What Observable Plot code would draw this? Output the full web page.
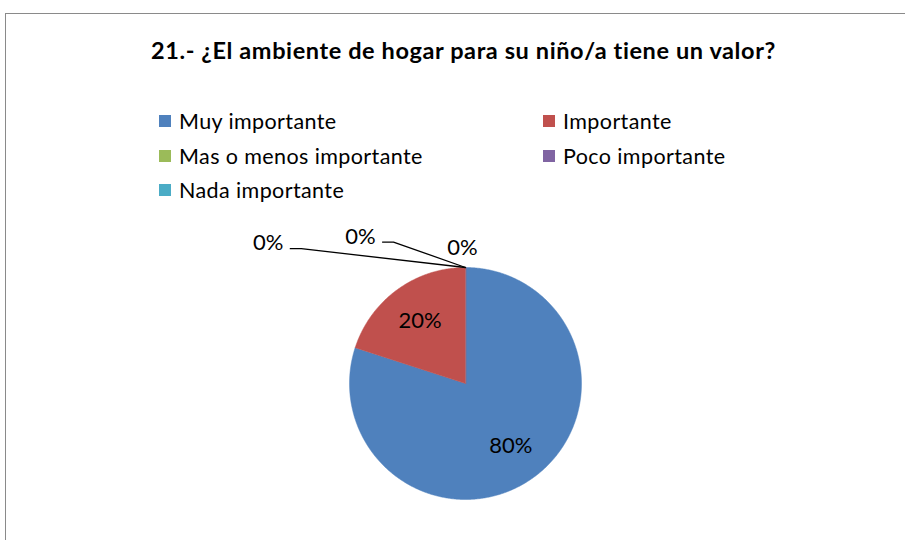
<!DOCTYPE html>
<html><head><meta charset="utf-8">
<script src="https://cdn.jsdelivr.net/npm/d3@7"></script>
<script src="https://cdn.jsdelivr.net/npm/@observablehq/plot@0.6"></script>
<style>
body{margin:0;background:#fff;}
#wrap{position:relative;width:905px;height:540px;overflow:hidden;font-family:Lato,"Open Sans",sans-serif;color:#000;}
#frame{position:absolute;left:5px;top:13px;width:1200px;height:1200px;border:1.5px solid #8a8a8a;box-sizing:border-box;}
#title{position:absolute;left:11px;width:905px;top:36px;text-align:center;font-weight:700;font-size:23.5px;letter-spacing:0.6px;line-height:28px;white-space:nowrap;}
.lg{position:absolute;display:flex;align-items:center;font-size:21.5px;letter-spacing:0.4px;line-height:24px;white-space:nowrap;}
.sw{width:12px;height:12px;margin-right:8px;flex:none;}
#chart{position:absolute;left:0;top:210px;}
</style></head>
<body><div id="wrap"><div id="frame"></div><div id="title"></div><div id="chart"></div></div>
<script>
// ---- data ----
const titleText = "21.- ¿El ambiente de hogar para su niño/a tiene un valor?";
const categories = ["Muy importante", "Importante", "Mas o menos importante", "Poco importante", "Nada importante"];
const values = [80, 20, 0, 0, 0];
const labels = ["80%", "20%", "0%", "0%", "0%"];
const colors = ["#4F81BD", "#C0504D", "#9BBB59", "#8064A2", "#4BACC6"];

// ---- layout (not data) ----
const legendCols = [159, 543];
const legendRows = [121, 156, 190];
const zeroLabelPos = [[-0.026, 1.17, false], [-0.905, 1.267, true], [-1.70, 1.21, true]]; // in radius units
const top0 = 210, cx = 465, cy = 383, R = 116;

document.getElementById("title").textContent = titleText;
const wrap = document.getElementById("wrap");
categories.forEach((c, i) => {
  const d = document.createElement("div");
  d.className = "lg";
  d.style.left = legendCols[i % 2] + "px";
  d.style.top = (legendRows[Math.floor(i / 2)] - 12) + "px";
  d.innerHTML = `<div class="sw" style="background:${colors[i]}"></div><span>${c}</span>`;
  wrap.appendChild(d);
});

const arcs = d3.pie().sort(null).startAngle(0).endAngle(2 * Math.PI)(values);
const marks = [];
arcs.forEach((a, i) => {
  if (a.endAngle - a.startAngle <= 0) return;
  const pts = [{x: 0, y: 0}];
  const n = Math.max(2, Math.ceil((a.endAngle - a.startAngle) / (Math.PI / 360)));
  for (let k = 0; k <= n; k++) {
    const t = a.startAngle + (a.endAngle - a.startAngle) * k / n;
    pts.push({x: Math.sin(t), y: Math.cos(t)});
  }
  marks.push(Plot.line(pts, {x: "x", y: "y", fill: colors[i], stroke: colors[i], strokeWidth: 0.5, curve: "linear-closed"}));
});

// labels
const textData = [];
const leaders = [];
let zi = 0;
arcs.forEach((a, i) => {
  if (a.value > 0) {
    const m = (a.startAngle + a.endAngle) / 2;
    textData.push({x: 0.665 * Math.sin(m), y: 0.665 * Math.cos(m), t: labels[i]});
  } else {
    const p = zeroLabelPos[zi++];
    const ax = Math.sin(a.startAngle), ay = Math.cos(a.startAngle);
    textData.push({x: ax + p[0], y: ay + p[1] - 1, t: labels[i]});
    if (p[2]) {
      const lx = ax + p[0] + 22 / R, ly = ay + p[1] - 1 - 5.5 / R;
      leaders.push({x: lx, y: ly, k: i}, {x: lx + 11 / R, y: ly, k: i}, {x: ax, y: ay, k: i});
    }
  }
});
marks.push(Plot.line(leaders, {x: "x", y: "y", z: "k", stroke: "#000", strokeWidth: 1.3}));
marks.push(Plot.text(textData, {x: "x", y: "y", text: "t", fontSize: 22, fill: "#000"}));

const plot = Plot.plot({
  width: 905, height: 330,
  margin: 0,
  style: {fontFamily: "Lato, 'Open Sans', sans-serif", background: "transparent", overflow: "visible"},
  x: {domain: [-1, 1], range: [cx - R, cx + R], axis: null},
  y: {domain: [-1, 1], range: [cy - top0 + R, cy - top0 - R], axis: null},
  marks
});
document.getElementById("chart").appendChild(plot);
</script></body></html>
